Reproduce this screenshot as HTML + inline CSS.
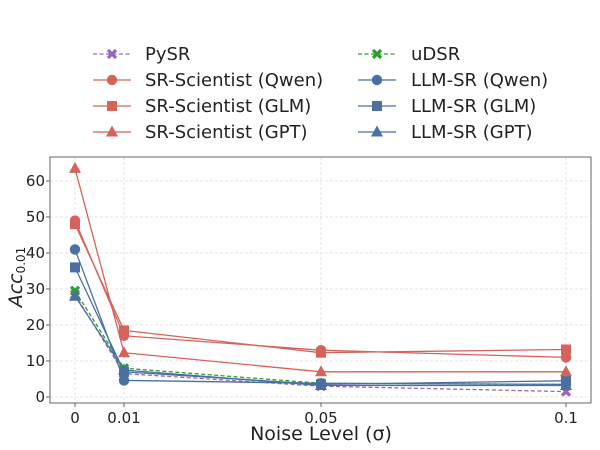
<!DOCTYPE html>
<html><head><meta charset="utf-8"><style>
body{margin:0;background:#fff}
svg{display:block;font-family:"DejaVu Sans","Liberation Sans",sans-serif}
</style></head><body>
<svg width="600" height="450" viewBox="0 0 600 450" xmlns="http://www.w3.org/2000/svg">
<defs>
<g id="c"><circle r="5.2"/></g>
<g id="s"><rect x="-5" y="-5" width="10" height="10"/></g>
<g id="t"><polygon points="0,-6.5 6,4.5 -6,4.5"/></g>
<g id="x"><path d="M-4,-4L4,4M-4,4L4,-4" stroke-width="3.2"/></g>
</defs>
<g stroke="#ddd" stroke-width="0.8" stroke-dasharray="3,2">
<line x1="50" x2="591" y1="397" y2="397"/><line x1="50" x2="591" y1="361" y2="361"/>
<line x1="50" x2="591" y1="325" y2="325"/><line x1="50" x2="591" y1="289" y2="289"/>
<line x1="50" x2="591" y1="253" y2="253"/><line x1="50" x2="591" y1="217" y2="217"/>
<line x1="50" x2="591" y1="181" y2="181"/>
<line x1="75" x2="75" y1="157" y2="403"/><line x1="124" x2="124" y1="157" y2="403"/>
<line x1="321" x2="321" y1="157" y2="403"/><line x1="566" x2="566" y1="157" y2="403"/>
</g>
<rect x="50" y="157" width="541" height="246" fill="none" stroke="#666" stroke-width="1"/>
<g stroke="#666"><line x1="46" x2="50" y1="397" y2="397"/><line x1="46" x2="50" y1="361" y2="361"/><line x1="46" x2="50" y1="325" y2="325"/><line x1="46" x2="50" y1="289" y2="289"/><line x1="46" x2="50" y1="253" y2="253"/><line x1="46" x2="50" y1="217" y2="217"/><line x1="46" x2="50" y1="181" y2="181"/>
<line x1="75" x2="75" y1="403" y2="407"/><line x1="124" x2="124" y1="403" y2="407"/><line x1="321" x2="321" y1="403" y2="407"/><line x1="566" x2="566" y1="403" y2="407"/></g>
<g font-size="15" fill="#222" text-anchor="end">
<text x="45" y="402">0</text><text x="45" y="366">10</text><text x="45" y="330">20</text><text x="45" y="294">30</text><text x="45" y="258">40</text><text x="45" y="222">50</text><text x="45" y="186">60</text></g>
<g font-size="15" fill="#222" text-anchor="middle">
<text x="75" y="423">0</text><text x="124" y="423">0.01</text><text x="321" y="423">0.05</text><text x="566" y="423">0.1</text></g>
<text x="321" y="440" font-size="19" text-anchor="middle" fill="#222">Noise Level (σ)</text>
<text transform="translate(22,277) rotate(-90)" font-size="19" text-anchor="middle" fill="#222"><tspan font-style="italic">Acc</tspan><tspan font-size="12" dy="3">0.01</tspan></text>
<g fill="none" stroke-width="1.3">
<polyline stroke="#9467bd" stroke-dasharray="4,2.5" points="75,294.4 124,373.6 321,386.2 566,391.6"/>
<polyline stroke="#2ca02c" stroke-dasharray="4,2.5" points="75,290.8 124,368.2 321,383.3 566,384.4"/>
<polyline stroke="#4a6fa0" points="75,249.4 124,380.4 321,383.3 566,384.4"/>
<polyline stroke="#4a6fa0" points="75,267.4 124,371.8 321,384.4 566,380.8"/>
<polyline stroke="#4a6fa0" points="75,296.2 124,370 321,385.5 566,385.5"/>
<polyline stroke="#d4635c" points="75,220.6 124,335.8 321,350.2 566,357.4"/>
<polyline stroke="#d4635c" points="75,224.2 124,330.4 321,352.7 566,349.5"/>
<polyline stroke="#d4635c" points="75,168.4 124,352.7 321,371.8 566,371.8"/>
</g>
<g stroke="#9467bd" fill="none"><use href="#x" x="75" y="294.4"/><use href="#x" x="124" y="373.6"/><use href="#x" x="321" y="386.2"/><use href="#x" x="566" y="391.6"/></g>
<g stroke="#2ca02c" fill="none"><use href="#x" x="75" y="290.8"/><use href="#x" x="124" y="368.2"/><use href="#x" x="321" y="383.3"/><use href="#x" x="566" y="384.4"/></g>
<g fill="#4a6fa0">
<use href="#t" x="75" y="296.2"/><use href="#t" x="124" y="370"/><use href="#t" x="321" y="385.5"/><use href="#t" x="566" y="385.5"/>
<use href="#s" x="75" y="267.4"/><use href="#s" x="124" y="371.8"/><use href="#s" x="321" y="384.4"/><use href="#s" x="566" y="380.8"/>
<use href="#c" x="75" y="249.4"/><use href="#c" x="124" y="380.4"/><use href="#c" x="321" y="383.3"/><use href="#c" x="566" y="384.4"/>
</g>
<g fill="#d4635c">
<use href="#t" x="75" y="168.4"/><use href="#t" x="124" y="352.7"/><use href="#t" x="321" y="371.8"/><use href="#t" x="566" y="371.8"/>
<use href="#s" x="75" y="224.2"/><use href="#s" x="124" y="330.4"/><use href="#s" x="321" y="352.7"/><use href="#s" x="566" y="349.5"/>
<use href="#c" x="75" y="220.6"/><use href="#c" x="124" y="335.8"/><use href="#c" x="321" y="350.2"/><use href="#c" x="566" y="357.4"/>
</g>
<g stroke-width="1.3" fill="none">
<line x1="93" x2="131" y1="54" y2="54" stroke="#9467bd" stroke-dasharray="4,2.5"/>
<line x1="93" x2="131" y1="80" y2="80" stroke="#d4635c"/>
<line x1="93" x2="131" y1="106" y2="106" stroke="#d4635c"/>
<line x1="93" x2="131" y1="132" y2="132" stroke="#d4635c"/>
<line x1="358" x2="396" y1="54" y2="54" stroke="#2ca02c" stroke-dasharray="4,2.5"/>
<line x1="358" x2="396" y1="80" y2="80" stroke="#4a6fa0"/>
<line x1="358" x2="396" y1="106" y2="106" stroke="#4a6fa0"/>
<line x1="358" x2="396" y1="132" y2="132" stroke="#4a6fa0"/>
</g>
<use href="#x" x="112" y="54" stroke="#9467bd"/>
<use href="#x" x="377" y="54" stroke="#2ca02c"/>
<g fill="#d4635c"><use href="#c" x="112" y="80"/><use href="#s" x="112" y="106"/><use href="#t" x="112" y="132"/></g>
<g fill="#4a6fa0"><use href="#c" x="377" y="80"/><use href="#s" x="377" y="106"/><use href="#t" x="377" y="132"/></g>
<g font-size="18" fill="#222">
<text x="145" y="60">PySR</text><text x="145" y="86">SR-Scientist (Qwen)</text><text x="145" y="112">SR-Scientist (GLM)</text><text x="145" y="138">SR-Scientist (GPT)</text>
<text x="411" y="60">uDSR</text><text x="411" y="86">LLM-SR (Qwen)</text><text x="411" y="112">LLM-SR (GLM)</text><text x="411" y="138">LLM-SR (GPT)</text>
</g>
</svg>
</body></html>
